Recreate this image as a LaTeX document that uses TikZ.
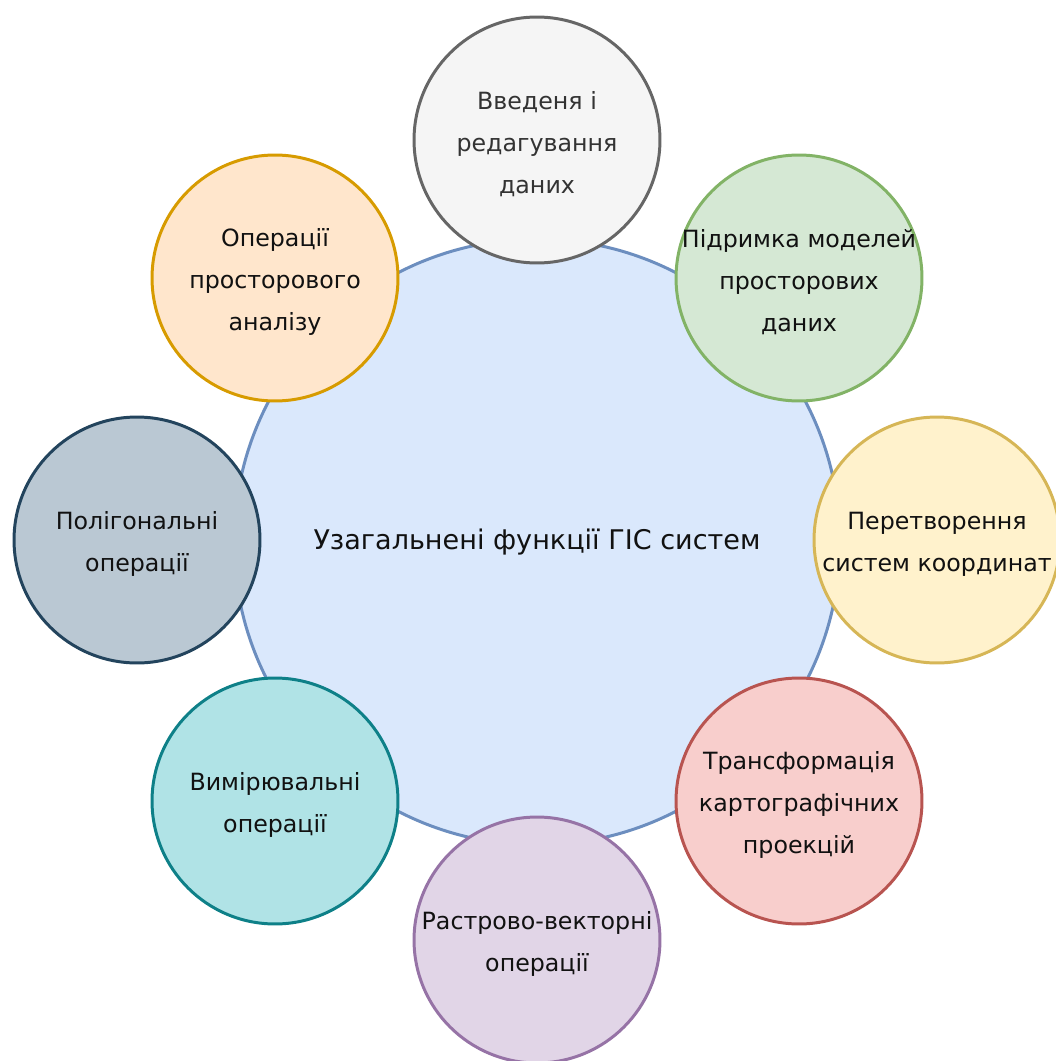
\documentclass[tikz,border=0pt]{standalone}
\usepackage{fontspec}
\setmainfont{DejaVu Sans}
\usepackage{tikz}
\usetikzlibrary{positioning}

\definecolor{hubfill}{HTML}{DAE8FC}
\definecolor{hubline}{HTML}{6C8EBF}
\definecolor{grayfill}{HTML}{F5F5F5}
\definecolor{grayline}{HTML}{666666}
\definecolor{greenfill}{HTML}{D5E8D4}
\definecolor{greenline}{HTML}{82B366}
\definecolor{yellowfill}{HTML}{FFF2CC}
\definecolor{yellowline}{HTML}{D6B656}
\definecolor{redfill}{HTML}{F8CECC}
\definecolor{redline}{HTML}{B85450}
\definecolor{purplefill}{HTML}{E1D5E7}
\definecolor{purpleline}{HTML}{9673A6}
\definecolor{tealfill}{HTML}{B0E3E6}
\definecolor{tealline}{HTML}{0E8088}
\definecolor{slatefill}{HTML}{BAC8D3}
\definecolor{slateline}{HTML}{23445D}
\definecolor{orangefill}{HTML}{FFE6CC}
\definecolor{orangeline}{HTML}{D79B00}
\definecolor{txt}{HTML}{111111}
\definecolor{graytxt}{HTML}{333333}

\begin{document}
\begin{tikzpicture}[x=0.02cm,y=-0.02cm,
  every label/.style={font=\fontsize{13.5}{23.7}\selectfont,text=txt,align=center,yshift=-2.3pt},
  hub/.style={circle,draw=hubline,fill=hubfill,line width=1.7pt,minimum size=12.12cm,inner sep=0pt,
    font=\fontsize{15.4}{20}\selectfont,text=txt},
  func/.style={circle,line width=1.7pt,minimum size=4.92cm,inner sep=0pt}]
\useasboundingbox (0,0) rectangle (1055,1061);

% Centre
\node[hub] (gis) at (537,542) {Узагальнені функції ГІС систем};

% Functions around the centre
\node[func,draw=grayline,fill=grayfill,label={[text=graytxt]center:{Введеня і\\редагування\\даних}}] (input) at (537,140) {};
\node[func,draw=greenline,fill=greenfill,label={center:{Підримка моделей\\просторових\\даних}}] (models) at (799,278) {};
\node[func,draw=yellowline,fill=yellowfill,label={center:{Перетворення\\систем координат}}] (coords) at (937,540) {};
\node[func,draw=redline,fill=redfill,label={center:{Трансформація\\картографічних\\проекцій}}] (proj) at (799,801) {};
\node[func,draw=purpleline,fill=purplefill,label={center:{Растрово-векторні\\операції}}] (raster) at (537,940) {};
\node[func,draw=tealline,fill=tealfill,label={center:{Вимірювальні\\операції}}] (measure) at (275,801) {};
\node[func,draw=slateline,fill=slatefill,label={center:{Полігональні\\операції}}] (poly) at (137,540) {};
\node[func,draw=orangeline,fill=orangefill,label={center:{Операції\\просторового\\аналізу}}] (spatial) at (275,278) {};
\end{tikzpicture}
\end{document}
